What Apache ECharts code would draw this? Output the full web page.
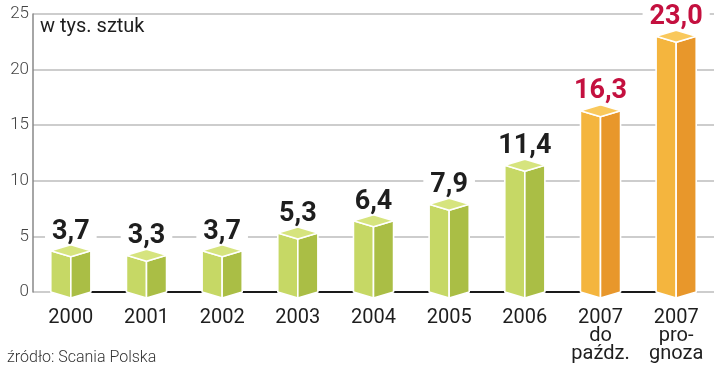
<!DOCTYPE html>
<html><head><meta charset="utf-8">
<script src="https://cdn.jsdelivr.net/npm/echarts@6/dist/echarts.min.js"></script>
<style>html,body{margin:0;padding:0;background:#fff}#c{width:720px;height:374px}</style>
</head><body><div id="c"></div>
<script>
const categories = ['2000','2001','2002','2003','2004','2005','2006','2007\ndo\npaźdz.','2007\npro-\ngnoza'];
const values = [3.7, 3.3, 3.7, 5.3, 6.4, 7.9, 11.4, 16.3, 23.0];
const valueLabels = ['3,7','3,3','3,7','5,3','6,4','7,9','11,4','16,3','23,0'];
const highlighted = [false,false,false,false,false,false,false,true,true];
const yTicks = [0,5,10,15,20,25];

const chart = echarts.init(document.getElementById('c'), null, {renderer:'canvas'});
const green = {top:'#d6e47e', left:'#c6d865', right:'#aabe45'};
const orange = {top:'#f9c85c', left:'#f4b53e', right:'#e8972b'};

function renderItem(params, api){
  const i = api.value(0);
  const v = api.value(1);
  const top = api.coord([i, v]);
  const base = api.coord([i, 0]);
  const hw = api.size([1,0])[0]*0.265;
  const d = 6;
  const x = top[0], yt = top[1], y0 = base[1];
  const c = highlighted[i] ? orange : green;
  const stroke = {stroke:'#fff', lineWidth:1.6, lineJoin:'round'};
  return {type:'group', children:[
    {type:'polygon', shape:{points:[[x-hw,yt],[x,yt+d],[x,y0+d],[x-hw,y0]]}, style:Object.assign({fill:c.left}, stroke)},
    {type:'polygon', shape:{points:[[x,yt+d],[x+hw,yt],[x+hw,y0],[x,y0+d]]}, style:Object.assign({fill:c.right}, stroke)},
    {type:'polygon', shape:{points:[[x-hw,yt],[x,yt-d],[x+hw,yt],[x,yt+d]]}, style:Object.assign({fill:c.top}, stroke)},
    {type:'text', style:{text:valueLabels[i], x:x, y:yt-d-13, align:'center', verticalAlign:'middle',
      font:'bold 27px Roboto', fill: highlighted[i] ? '#c4103f' : '#1e1e1e',
      backgroundColor:'#fff', padding:[0,7]}}
  ]};
}

chart.setOption({
  animation:false,
  grid:{left:33, right:6, top:14, bottom:82},
  xAxis:{type:'category', data:categories, boundaryGap:true,
    axisLine:{show:false}, axisTick:{show:false},
    axisLabel:{color:'#1e1e1e', fontFamily:'Roboto', fontSize:20, lineHeight:18, margin:17, interval:0}},
  yAxis:{type:'value', min:yTicks[0], max:yTicks[yTicks.length-1], interval:5,
    axisLine:{show:true, lineStyle:{color:'#888', width:1.5}},
    axisTick:{show:false},
    axisLabel:{color:'#444', fontFamily:'Roboto', fontWeight:300, fontSize:17, margin:4},
    splitLine:{show:true, lineStyle:{color:'#bdbdbd', width:1.5}}},
  series:[
    {type:'line', data:categories.map(()=>0), symbol:'none', silent:true, z:1,
      lineStyle:{color:'#1a1a1a', width:2.2}},
    {type:'custom', renderItem:renderItem, data:values.map((v,i)=>[i,v]), z:3, clip:false}
  ],
  graphic:[
    {type:'text', left:40, top:17, style:{text:'w tys. sztuk', font:'20px Roboto', fill:'#1e1e1e'}},
    {type:'text', left:7, top:350, style:{text:'źródło: Scania Polska', font:'300 16px Roboto', fill:'#333'}}
  ]
});
</script></body></html>
